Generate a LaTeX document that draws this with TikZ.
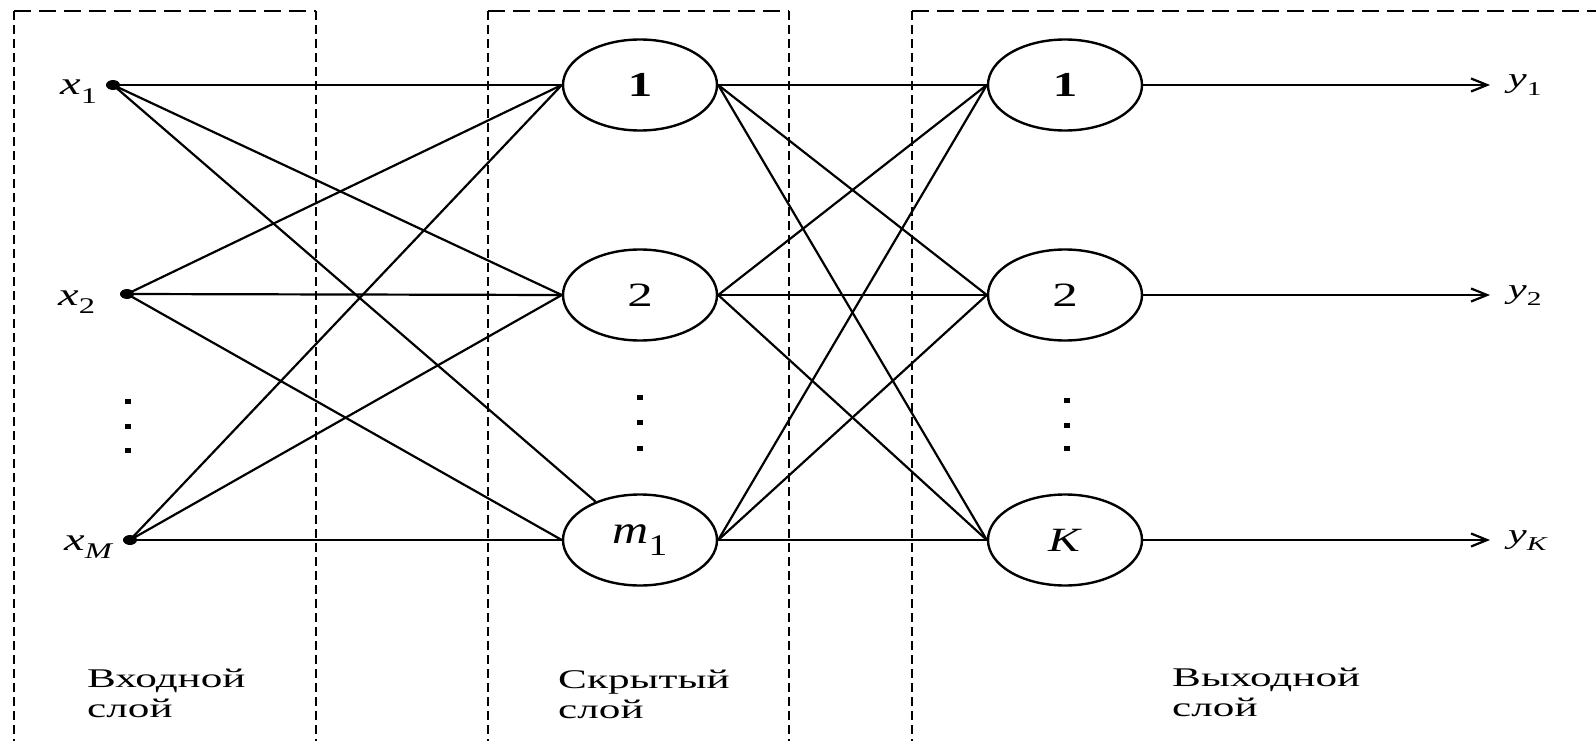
\documentclass[tikz,border=0pt]{standalone}
\usepackage{fontspec}
\setmainfont{Liberation Serif}
\usepackage{graphicx}
\usetikzlibrary{shapes.geometric,arrows.meta}
\newcommand\hs[2]{\scalebox{#1}[1]{#2}}
\newcommand\vsub[3][0.7]{\textit{#2}\raisebox{-0.28em}{\scalebox{#1}{#3}}}
\begin{document}
\begin{tikzpicture}[x=1pt,y=-1pt,
  neuron/.style={draw,ellipse,line width=2.4pt,minimum width=154pt,minimum height=91pt,inner sep=0pt,fill=white},
  dotnode/.style={fill,ellipse,minimum width=14pt,minimum height=10pt,inner sep=0pt},
  conn/.style={line width=2.2pt},
  outarrow/.style={line width=2.2pt,-{Straight Barb[length=16pt,width=13pt,line width=2.2pt]}},
  hdash/.style={line width=2pt,dash pattern=on 17pt off 8pt},
  vdash/.style={line width=2pt,dash pattern=on 9pt off 5pt},
  lbl/.style={inner sep=0pt,anchor=base west,font=\fontsize{27}{30}\selectfont},
  vlbl/.style={inner sep=0pt,anchor=base west}]
\clip (0,0) rectangle (1596,741);
\fill[white] (0,0) rectangle (1596,741);

% layer boxes
\draw[hdash] (14,11) -- (316,11);
\draw[vdash] (14,11) -- (14,760);
\draw[vdash] (316,11) -- (316,760);
\draw[hdash] (488,11) -- (789,11);
\draw[vdash] (488,11) -- (488,760);
\draw[vdash] (789,11) -- (789,760);
\draw[hdash] (912,11) -- (1620,11);
\draw[vdash] (912,11) -- (912,760);

% input points
\node[dotnode] (x1) at (113,85) {};
\node[dotnode] (x2) at (127,294) {};
\node[dotnode] (x3) at (130,540) {};

% hidden neurons
\node[neuron] (h1) at (640,85) {\hs{1.4}{\fontsize{35}{35}\selectfont\textbf{1}}};
\node[neuron] (h2) at (640,295) {\hs{1.5}{\fontsize{34}{34}\selectfont 2}};
\node[neuron] (h3) at (640,540) {\hs{1.25}{\fontsize{40}{40}\selectfont\vsub[0.75]{m}{1}}};

% output neurons
\node[neuron] (o1) at (1065,85) {\hs{1.4}{\fontsize{35}{35}\selectfont\textbf{1}}};
\node[neuron] (o2) at (1065,295) {\hs{1.5}{\fontsize{34}{34}\selectfont 2}};
\node[neuron] (o3) at (1065,540) {\hs{1.4}{\fontsize{34}{34}\selectfont\textit{K}}};

% output ends
\coordinate (e1) at (1490,85);
\coordinate (e2) at (1490,295);
\coordinate (e3) at (1490,540);

% input -> hidden
\draw[conn] (x1.center) -- (h1.west);
\draw[conn] (x1.center) -- (h2.west);
\draw[conn] (x1.center) -- (h3);
\draw[conn] (x2.center) -- (h1.west);
\draw[conn] (x2.center) -- (h2.west);
\draw[conn] (x2.center) -- (h3.west);
\draw[conn] (x3.center) -- (h1.west);
\draw[conn] (x3.center) -- (h2.west);
\draw[conn] (x3.center) -- (h3.west);

% hidden -> output
\foreach \h in {h1,h2,h3}{
  \foreach \o in {o1,o2,o3}{
    \draw[conn] (\h.east) -- (\o.west);
  }
}

% outputs
\draw[outarrow] (o1.east) -- (e1);
\draw[outarrow] (o2.east) -- (e2);
\draw[outarrow] (o3.east) -- (e3);

% input labels
\node[vlbl,font=\fontsize{32}{32}\selectfont] (lx1) at (60,95) {\hs{1.45}{\vsub{x}{1}}};
\node[vlbl,font=\fontsize{32}{32}\selectfont] (lx2) at (58,305) {\hs{1.45}{\vsub{x}{2}}};
\node[vlbl,font=\fontsize{32}{32}\selectfont] (lx3) at (64,550) {\hs{1.45}{\vsub{x}{\textit{M}}}};

% output labels
\node[vlbl,font=\fontsize{28}{28}\selectfont] (ly1) at (1508,88) {\hs{1.5}{\vsub{y}{1}}};
\node[vlbl,font=\fontsize{28}{28}\selectfont] (ly2) at (1508,298) {\hs{1.5}{\vsub{y}{2}}};
\node[vlbl,font=\fontsize{28}{28}\selectfont] (ly3) at (1508,543) {\hs{1.5}{\vsub{y}{\textit{K}}}};

% vertical ellipsis dots
\foreach \x/\y in {128/401,128/426,128/450,640/397,640/422,640/448,1067/400,1067/425,1067/448}{
  \fill (\x-3,\y-2.5) rectangle (\x+3,\y+2.5);
}

% layer captions
\node[lbl] (cin) at (87,687) {\hs{1.6}{\begin{tabular}[t]{@{}l@{}}Входной\\слой\end{tabular}}};
\node[lbl] (chid) at (558,688) {\hs{1.6}{\begin{tabular}[t]{@{}l@{}}Скрытый\\слой\end{tabular}}};
\node[lbl] (cout) at (1172,686) {\hs{1.6}{\begin{tabular}[t]{@{}l@{}}Выходной\\слой\end{tabular}}};
\end{tikzpicture}
\end{document}
